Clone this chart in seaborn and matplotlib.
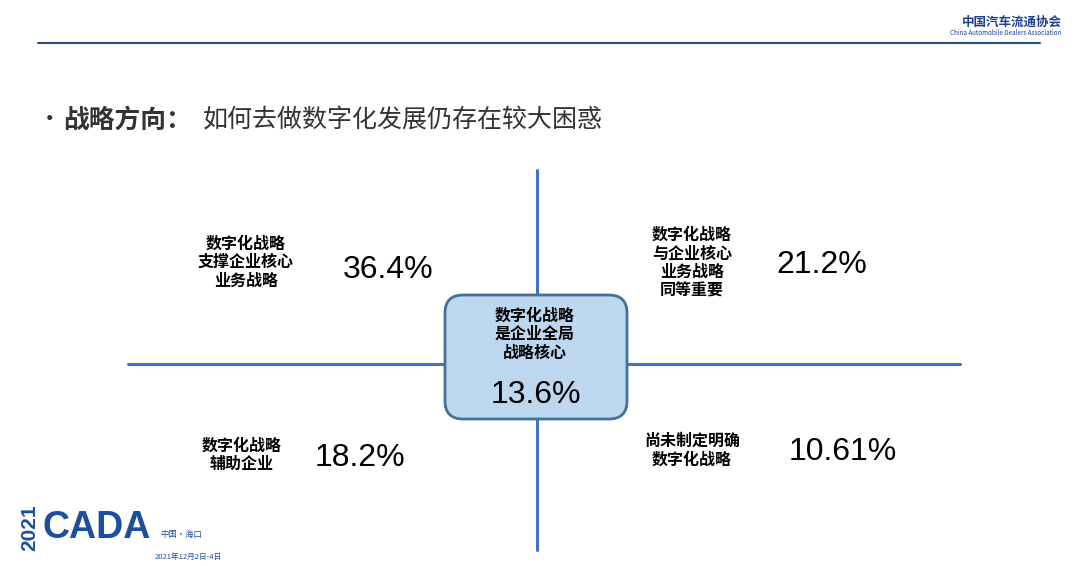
import matplotlib
matplotlib.use("Agg")
import matplotlib.pyplot as plt
import seaborn as sns
import pandas as pd
from matplotlib.patches import FancyBboxPatch

sns.set_theme(style="white")
plt.rcParams['font.family'] = ['Noto Sans CJK SC', 'DejaVu Sans']

labels = ["数字化战略\n支撑企业核心\n业务战略", "数字化战略\n与企业核心\n业务战略\n同等重要",
          "数字化战略\n辅助企业", "尚未制定明确\n数字化战略", "数字化战略\n是企业全局\n战略核心"]
values = ["36.4%", "21.2%", "18.2%", "10.61%", "13.6%"]
title_bold = "战略方向："
title_rest = "如何去做数字化发展仍存在较大困惑"

fig = plt.figure(figsize=(10.8, 5.66), dpi=100)
ax = fig.add_axes([0, 0, 1, 1])

blue = "#4472C4"
lines = pd.DataFrame({"x": [38, 1040, 537, 537, 128, 960], "y": [43, 43, 170, 550, 364, 364],
                      "g": ["top", "top", "v", "v", "h", "h"]})
sns.lineplot(data=lines[lines.g == "top"], x="x", y="y", ax=ax, color="#2E4A7D", lw=1.5,
             sort=False, estimator=None, errorbar=None)
sns.lineplot(data=lines[lines.g == "v"], x="x", y="y", ax=ax, color=blue, lw=2.2,
             sort=False, estimator=None, errorbar=None, orient="y")
sns.lineplot(data=lines[lines.g == "h"], x="x", y="y", ax=ax, color=blue, lw=2.2,
             sort=False, estimator=None, errorbar=None)
ax.set_xlim(0, 1080); ax.set_ylim(566, 0); ax.axis("off")

box = FancyBboxPatch((445, 295), 182, 124, boxstyle="round,pad=0,rounding_size=18",
                     fc="#BDD7EE", ec="#41719C", lw=2, zorder=3)
ax.add_patch(box)

ax.text(38, 120, "•", fontsize=17, va="center", color="#333333")
ax.text(63, 120, title_bold, fontsize=18.5, fontweight="bold", va="center", color="#333333")
ax.text(203, 120, title_rest, fontsize=18, va="center", color="#333333")

lab_pos = [(246, 262), (692, 263), (242, 455), (692, 450), (535, 334)]
val_pos = [(388, 270), (822, 265), (360, 458), (843, 452), (536, 395)]
for (lx, ly), (vx, vy), l, v in zip(lab_pos, val_pos, labels, values):
    ax.text(lx, ly, l, fontsize=11.5, fontweight="bold", ha="center", va="center",
            linespacing=1.2, zorder=4, color="black")
    ax.text(vx, vy, v, fontsize=23, ha="center", va="center", zorder=4,
            family="Liberation Sans", color="black")

ax.text(1062, 22, "中国汽车流通协会", fontsize=9, fontweight="bold", ha="right", va="center", color="#1F3F8F")
ax.text(1062, 33, "China Automobile Dealers Association", fontsize=4.5, ha="right", va="center", color="#1F3F8F")
ax.text(30, 528, "2021", fontsize=15, fontweight="bold", rotation=90, ha="center", va="center",
        color="#1F4E9E", family="Liberation Sans")
ax.text(42, 528, "CADA", fontsize=27, fontweight="bold", ha="left", va="center", color="#1F4E9E",
        family="Liberation Sans")
ax.text(160, 534, "中国·海口", fontsize=6, color="#1F4E9E", va="center")
ax.text(155, 557, "2021年12月2日-4日", fontsize=5.5, color="#1F4E9E", va="center")

fig.savefig("out.png", dpi=100)
